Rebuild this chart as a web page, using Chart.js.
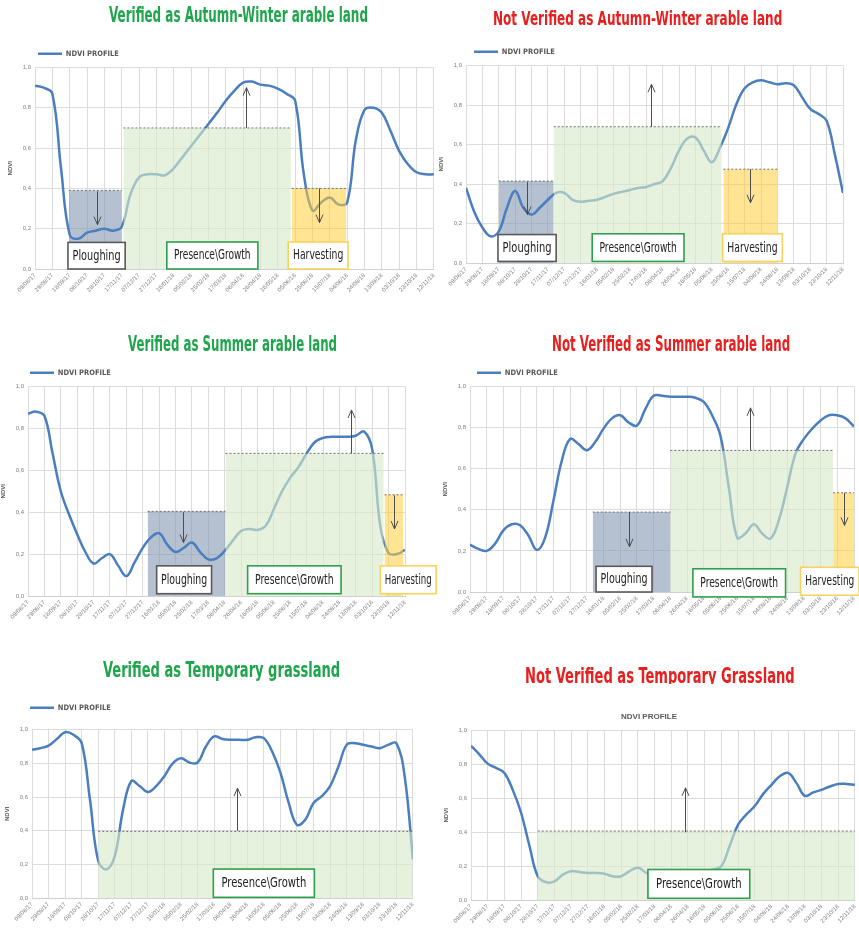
<!DOCTYPE html>
<html>
<head>
<meta charset="utf-8">
<script src="https://cdn.jsdelivr.net/npm/chart.js@4.4.1/dist/chart.umd.min.js"></script>
<style>
  body { margin: 0; background: #fff; width: 859px; height: 935px; position: relative; overflow: hidden; }
  .panel { position: absolute; }
  .ttl { position: absolute; white-space: nowrap; font-family: "Liberation Sans Narrow", "DejaVu Sans Condensed", sans-serif;
         font-weight: bold; transform-origin: left top; }
  .clip { position: absolute; overflow: hidden; left: 0; width: 859px; }
</style>
</head>
<body>
<script>
// ---- data: Sentinel acquisition dates (10 days apart) and axis labels ----
const acqDates = ['09/08/17','19/08/17','29/08/17','08/09/17','18/09/17','28/09/17','08/10/17','18/10/17','28/10/17',
  '07/11/17','17/11/17','27/11/17','07/12/17','17/12/17','27/12/17','06/01/18','16/01/18','26/01/18','05/02/18',
  '15/02/18','25/02/18','07/03/18','17/03/18','27/03/18','06/04/18','16/04/18','26/04/18','06/05/18','16/05/18',
  '26/05/18','05/06/18','15/06/18','25/06/18','05/07/18','15/07/18','25/07/18','04/08/18','14/08/18','24/08/18',
  '03/09/18','13/09/18','23/09/18','03/10/18','13/10/18','23/10/18','02/11/18','12/11/18'];

const tickLabels = ['09/08/17','29/08/17','18/09/17','08/10/17','28/10/17','17/11/17','07/12/17','27/12/17',
  '16/01/18','05/02/18','25/02/18','17/03/18','06/04/18','26/04/18','16/05/18','05/06/18','25/06/18','15/07/18',
  '04/08/18','24/08/18','13/09/18','03/10/18','23/10/18','12/11/18'];

// NDVI profiles, one value per acquisition date
const ndviAutumnOk = [0.91,0.90,0.87,0.50,0.17,0.15,0.18,0.19,0.20,0.19,0.21,0.37,0.455,0.47,0.47,0.465,0.50,
  0.555,0.61,0.665,0.72,0.775,0.835,0.885,0.925,0.93,0.915,0.91,0.895,0.87,0.835,0.47,0.29,0.33,0.355,0.32,0.33,
  0.64,0.79,0.80,0.775,0.685,0.585,0.52,0.48,0.47,0.47];
const ndviAutumnNo = [0.38,0.26,0.18,0.135,0.16,0.28,0.365,0.28,0.245,0.28,0.32,0.355,0.355,0.32,0.31,0.315,0.32,
  0.335,0.35,0.36,0.37,0.38,0.385,0.40,0.415,0.48,0.57,0.63,0.635,0.57,0.51,0.585,0.685,0.805,0.885,0.915,0.925,
  0.915,0.905,0.91,0.90,0.84,0.78,0.755,0.72,0.55,0.355];
const ndviSummerOk = [0.87,0.88,0.86,0.68,0.50,0.39,0.295,0.21,0.155,0.18,0.20,0.145,0.095,0.16,0.23,0.28,0.30,
  0.245,0.21,0.23,0.255,0.21,0.175,0.18,0.215,0.265,0.31,0.32,0.315,0.335,0.415,0.50,0.565,0.615,0.68,0.735,0.755,
  0.76,0.76,0.76,0.765,0.785,0.70,0.33,0.205,0.20,0.22];
const ndviSummerNo = [0.23,0.21,0.20,0.235,0.30,0.33,0.325,0.275,0.205,0.265,0.445,0.64,0.745,0.72,0.69,0.73,0.795,
  0.845,0.86,0.825,0.81,0.89,0.955,0.955,0.95,0.95,0.95,0.945,0.925,0.86,0.76,0.51,0.265,0.285,0.33,0.285,0.26,
  0.35,0.51,0.675,0.745,0.795,0.835,0.86,0.86,0.845,0.805];
const ndviGrassOk = [0.88,0.89,0.905,0.945,0.985,0.97,0.92,0.585,0.22,0.17,0.25,0.525,0.695,0.665,0.63,0.665,0.725,
  0.80,0.83,0.805,0.805,0.90,0.96,0.945,0.94,0.94,0.94,0.955,0.95,0.87,0.745,0.565,0.435,0.465,0.565,0.605,0.665,
  0.78,0.91,0.92,0.91,0.90,0.89,0.91,0.92,0.725,0.23];
const ndviGrassNo = [0.91,0.86,0.805,0.78,0.75,0.65,0.515,0.32,0.14,0.105,0.11,0.15,0.17,0.165,0.16,0.16,0.155,
  0.14,0.14,0.17,0.19,0.16,0.14,0.14,0.15,0.15,0.15,0.16,0.17,0.18,0.20,0.32,0.445,0.505,0.555,0.625,0.68,0.73,
  0.75,0.69,0.615,0.635,0.65,0.67,0.685,0.685,0.68];

// ---- helpers ----
const dayNum = s => { const [d, m, y] = s.split('/').map(Number); return Date.UTC(2000 + y, m - 1, d) / 864e5; };
const dayZero = dayNum(acqDates[0]);
const acqDays = acqDates.map(s => dayNum(s) - dayZero);
const tickDays = tickLabels.map(s => dayNum(s) - dayZero);

const FONT = '"Liberation Sans", Arial, sans-serif';
const NARROW = '"Liberation Sans Narrow", "DejaVu Sans Condensed", sans-serif';
const GREEN = '#1fa64c', RED = '#e5201f';

const zoneFill = { plough: 'rgba(132,151,176,0.6)', grow: 'rgba(214,234,200,0.62)', harvest: 'rgba(255,205,60,0.55)' };
const tagBorder = { plough: '#595959', grow: '#2e9e4f', harvest: '#f7d25e' };
const tagText = { plough: 'Ploughing', grow: 'Presence\\Growth', harvest: 'Harvesting' };

// phases (x in days since 09/08/17), arrows, and label boxes per panel
const panels = [
  { title: 'Verified as Autumn-Winter arable land', color: GREEN, tb: 22.5, tcx: 238, tw: 259, fs: 21,
    ndvi: ndviAutumnOk, box: [35, 436, 67, 268], legendDx: 3, padR: 6,
    zones: [['plough', 39, 100, 0.39], ['grow', 102, 295, 0.70], ['harvest', 296, 359, 0.40]],
    arrows: [[71, 0.385, 0.22], [243, 0.70, 0.90], [328, 0.40, 0.23]],
    tags: [['plough', 38, 104, 0, 0.132], ['grow', 152, 257, 0, 0.134], ['harvest', 292, 361, 0, 0.134]] },
  { title: 'Not Verified as Autumn-Winter arable land', color: RED, tb: 25.3, tcx: 637, tw: 289, fs: 19,
    ndvi: ndviAutumnNo, box: [466, 843, 65, 262], legendDx: 8, padR: 10,
    zones: [['plough', 40, 107, 0.415], ['grow', 107, 312, 0.69], ['harvest', 314, 380, 0.475]],
    arrows: [[74, 0.41, 0.245], [226, 0.69, 0.905], [346, 0.475, 0.305]],
    tags: [['plough', 39, 110, 0.008, 0.144], ['grow', 154, 266, 0.008, 0.148], ['harvest', 313, 386, 0.008, 0.148]] },
  { title: 'Verified as Summer arable land', color: GREEN, tb: 351.7, tcx: 232, tw: 209, fs: 20.5,
    ndvi: ndviSummerOk, box: [27.7, 405, 386, 595], legendDx: 2, padR: 36,
    zones: [['plough', 146, 241, 0.404], ['grow', 241, 434, 0.681], ['harvest', 435, 458, 0.483]],
    arrows: [[189, 0.40, 0.255], [394, 0.68, 0.888], [446, 0.48, 0.32]],
    tags: [['plough', 157, 224, 0.011, 0.144], ['grow', 268, 382, 0.011, 0.144], ['harvest', 430, 498, 0.011, 0.144]] },
  { title: 'Not Verified as Summer arable land', color: RED, tb: 351.7, tcx: 671, tw: 238, fs: 20.5,
    ndvi: ndviSummerNo, box: [470, 854, 386, 591.7], legendDx: 7, padR: 10,
    zones: [['plough', 147, 240, 0.389], ['grow', 240, 435, 0.689], ['harvest', 435, 460, 0.483]],
    arrows: [[190, 0.389, 0.22], [335, 0.689, 0.896], [448, 0.483, 0.324]],
    tags: [['plough', 151, 218, 0, 0.125], ['grow', 267, 378, -0.024, 0.113], ['harvest', 396, 466, -0.016, 0.12]] },
  { title: 'Verified as Temporary grassland', color: GREEN, tb: 678, tcx: 221, tw: 237, fs: 21,
    ndvi: ndviGrassOk, box: [32.3, 413, 730, 898.3], legendDx: -2, padR: 8, legendGap: 7,
    zones: [['grow', 80, 460, 0.396]],
    arrows: [[247, 0.40, 0.653]],
    tags: [['grow', 219, 341, 0.004, 0.172]] },
  { title: 'Not Verified as Temporary Grassland', color: RED, tb: 684, tcx: 660, tw: 270, fs: 21, clipAt: 684,
    ndvi: ndviGrassNo, box: [471, 857, 731, 900.7], chartTitle: 'NDVI PROFILE', padR: 6,
    zones: [['grow', 80, 460, 0.407]],
    arrows: [[256, 0.40, 0.662]],
    tags: [['grow', 212, 334, 0.01, 0.18]] }
];

// arrows + label boxes drawn over the datasets
const markupPlugin = {
  id: 'markup',
  afterDatasetsDraw(chart, args, opts) {
    const { ctx, scales: { x, y } } = chart;
    ctx.save();
    ctx.strokeStyle = '#4d4d4d';
    ctx.lineWidth = 1;
    (opts.arrows || []).forEach(([ax, from, to]) => {
      const px = Math.round(x.getPixelForValue(ax)) + 0.5;
      const y0 = y.getPixelForValue(from), y1 = y.getPixelForValue(to);
      const dir = y1 < y0 ? 1 : -1;
      ctx.beginPath();
      ctx.moveTo(px, y0); ctx.lineTo(px, y1);
      ctx.moveTo(px - 3.5, y1 + dir * 8); ctx.lineTo(px, y1); ctx.lineTo(px + 3.5, y1 + dir * 8);
      ctx.stroke();
    });
    (opts.tags || []).forEach(([kind, x0, x1, yb, yt]) => {
      const l = x.getPixelForValue(x0), r = x.getPixelForValue(x1);
      const t = y.getPixelForValue(yt), b = y.getPixelForValue(yb);
      ctx.fillStyle = '#fff';
      ctx.fillRect(l, t, r - l, b - t);
      ctx.strokeStyle = tagBorder[kind];
      ctx.lineWidth = 1.6;
      ctx.strokeRect(l, t, r - l, b - t);
      ctx.fillStyle = '#222';
      ctx.font = '13.5px ' + NARROW;
      ctx.textAlign = 'center';
      ctx.textBaseline = 'middle';
      ctx.fillText(tagText[kind], (l + r) / 2, (t + b) / 2 + 0.5, (r - l) * 0.84);
    });
    ctx.restore();
  }
};

const Y_AXIS_W = 30, X_AXIS_H = 32;

function buildConfig(p) {
  const datasets = [{
    label: 'NDVI PROFILE',
    data: acqDays.map((d, i) => ({ x: d, y: p.ndvi[i] })),
    borderColor: '#4a7ebf', borderWidth: 2.5, pointRadius: 0, tension: 0.4, fill: false, order: 1
  }];
  p.zones.forEach(([kind, x0, x1, top]) => {
    datasets.push({
      label: kind,
      data: [{ x: x0, y: top }, { x: x1, y: top }],
      fill: 'origin', backgroundColor: zoneFill[kind],
      borderColor: '#6f6f6f', borderWidth: 1, borderDash: [2, 2],
      pointRadius: 0, tension: 0, order: kind === 'plough' ? 2 : 0
    });
  });
  // chart title: "NDVI PROFILE" heading, or an empty spacer under the legend
  const titleOpts = p.chartTitle
    ? { display: true, text: p.chartTitle, color: '#595959', font: { size: 8, weight: 'bold', family: FONT },
        padding: { top: 4, bottom: 9 } }
    : { display: !!p.legendGap, text: '', weight: 500, font: { size: 1 }, padding: { top: 0, bottom: p.legendGap || 0 } };
  return {
    type: 'line',
    data: { datasets },
    plugins: [markupPlugin],
    options: {
      responsive: false, animation: false, devicePixelRatio: 1,
      layout: { padding: { left: 0, right: p.padR, top: 0, bottom: 0 } },
      scales: {
        x: {
          type: 'linear', min: 0, max: 460,
          afterFit: s => { s.height = X_AXIS_H; },
          grid: { color: '#dcdcdc', drawTicks: false },
          border: { color: '#d0d0d0' },
          ticks: {
            stepSize: 20, autoSkip: false, minRotation: 45, maxRotation: 45, padding: 3,
            color: '#7f7f7f', font: { size: 6, family: FONT },
            callback: v => { const i = tickDays.indexOf(v); return i < 0 ? '' : tickLabels[i]; }
          }
        },
        y: {
          min: 0, max: 1,
          afterFit: s => { s.width = Y_AXIS_W; },
          grid: { color: '#dcdcdc', drawTicks: false },
          border: { display: false },
          title: { display: true, text: 'NDVI', color: '#595959', font: { size: 6, weight: 'bold', family: FONT }, padding: 2 },
          ticks: {
            stepSize: 0.2, padding: 4, color: '#7f7f7f', font: { size: 6, family: FONT },
            callback: v => v.toFixed(1).replace('.', ',')
          }
        }
      },
      plugins: {
        tooltip: { enabled: false },
        legend: {
          display: !p.chartTitle, position: 'top', align: 'start',
          labels: {
            filter: it => it.datasetIndex === 0,
            usePointStyle: true, pointStyle: 'line', pointStyleWidth: 24, boxHeight: 7,
            color: '#595959', font: { size: 7.5, weight: 'bold', family: NARROW },
            padding: Y_AXIS_W + (p.legendDx || 0)
          }
        },
        title: titleOpts,
        markup: { arrows: p.arrows, tags: p.tags }
      }
    }
  };
}

panels.forEach(p => {
  const [pl, pr, pt, pb] = p.box;
  const wrap = document.createElement('div');
  wrap.className = 'panel';
  document.body.appendChild(wrap);
  const canvas = document.createElement('canvas');
  wrap.appendChild(canvas);
  const W = Math.round(Y_AXIS_W + (pr - pl) + p.padR);
  canvas.width = W; canvas.height = 400;
  // first pass only to learn how much room the legend / title takes
  let chart = new Chart(canvas, buildConfig(p));
  const topRoom = chart.chartArea.top;
  chart.destroy();
  canvas.width = W;
  canvas.height = Math.round(topRoom + (pb - pt) + X_AXIS_H);
  canvas.style.width = canvas.width + 'px';
  canvas.style.height = canvas.height + 'px';
  chart = new Chart(canvas, buildConfig(p));
  wrap.style.left = (pl - chart.chartArea.left) + 'px';
  wrap.style.top = (pt - chart.chartArea.top) + 'px';

  // panel heading
  let host = document.body;
  if (p.clipAt) {
    host = document.createElement('div');
    host.className = 'clip';
    host.style.top = '0px';
    host.style.height = p.clipAt + 'px';
    document.body.appendChild(host);
  }
  const t = document.createElement('div');
  t.className = 'ttl';
  t.textContent = p.title;
  t.style.color = p.color;
  t.style.fontSize = p.fs + 'px';
  t.style.lineHeight = p.fs + 'px';
  host.appendChild(t);
  const natural = t.offsetWidth;
  t.style.left = (p.tcx - p.tw / 2) + 'px';
  t.style.top = (p.tb - 0.846 * p.fs) + 'px';
  t.style.transform = 'scaleX(' + (p.tw / natural).toFixed(3) + ')';
});
</script>
</body>
</html>
